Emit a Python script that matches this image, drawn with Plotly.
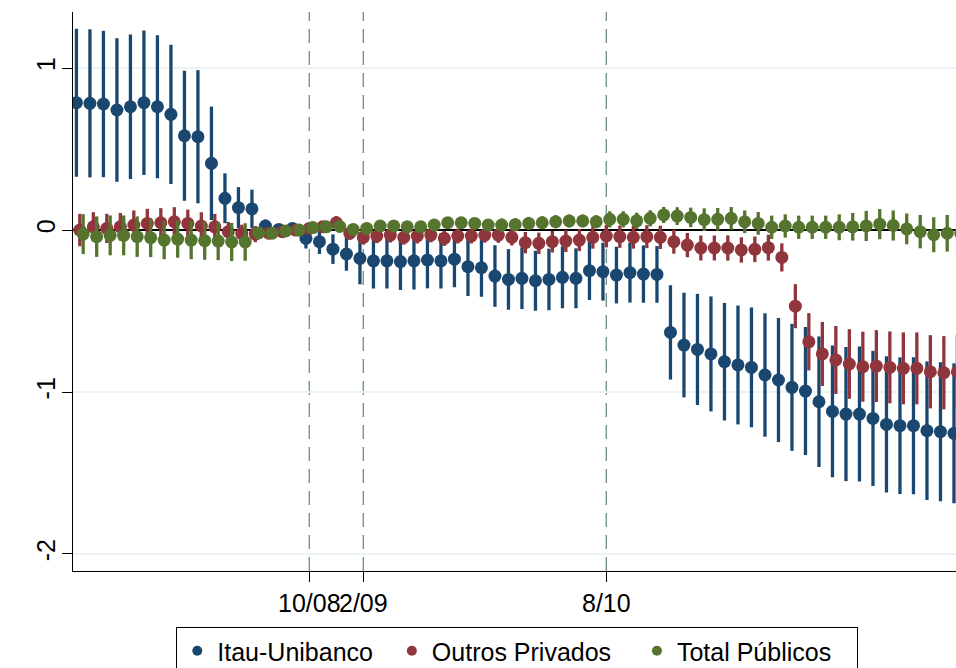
import plotly.graph_objects as go

# Monthly periods (0 = 5/2007) and the labelled months on the x axis
periods = list(range(66))
tick_periods = [17, 21, 39]
tick_labels = ["10/08", "2/09", "8/10"]

# Point estimates
itau = [0.786, 0.782, 0.778, 0.741, 0.761, 0.786, 0.761, 0.714, 0.582, 0.576,
        0.412, 0.196, 0.138, 0.130, 0.025, 0.004, 0.010, -0.052, -0.072, -0.118,
        -0.148, -0.175, -0.190, -0.190, -0.195, -0.190, -0.185, -0.190, -0.180, -0.226,
        -0.233, -0.284, -0.305, -0.298, -0.313, -0.305, -0.292, -0.298, -0.251, -0.257,
        -0.278, -0.263, -0.272, -0.274, -0.632, -0.710, -0.737, -0.765, -0.813, -0.833,
        -0.848, -0.895, -0.926, -0.971, -0.994, -1.060, -1.120, -1.136, -1.136, -1.163,
        -1.200, -1.208, -1.208, -1.239, -1.245, -1.255]
outros = [0.000, 0.020, 0.010, 0.020, 0.031, 0.041, 0.045, 0.051, 0.041, 0.025,
          0.020, -0.010, -0.022, -0.025, -0.020, -0.010, 0.000, 0.010, 0.020, 0.045,
          -0.020, -0.045, -0.037, -0.031, -0.045, -0.037, -0.031, -0.051, -0.037, -0.037,
          -0.031, -0.031, -0.045, -0.078, -0.082, -0.072, -0.068, -0.062, -0.045, -0.037,
          -0.041, -0.045, -0.041, -0.045, -0.072, -0.093, -0.111, -0.111, -0.111, -0.123,
          -0.119, -0.109, -0.169, -0.470, -0.690, -0.765, -0.802, -0.827, -0.844, -0.840,
          -0.848, -0.854, -0.854, -0.875, -0.881, -0.875]
publicos = [-0.025, -0.041, -0.033, -0.033, -0.041, -0.047, -0.062, -0.056, -0.062, -0.066,
            -0.068, -0.074, -0.074, -0.018, -0.020, -0.006, 0.000, 0.015, 0.020, 0.022,
            0.004, 0.010, 0.025, 0.025, 0.020, 0.020, 0.031, 0.045, 0.045, 0.041,
            0.031, 0.031, 0.033, 0.041, 0.045, 0.051, 0.056, 0.056, 0.051, 0.066,
            0.066, 0.057, 0.072, 0.093, 0.086, 0.078, 0.064, 0.066, 0.072, 0.051,
            0.041, 0.017, 0.025, 0.017, 0.017, 0.017, 0.017, 0.020, 0.025, 0.036,
            0.028, 0.007, -0.010, -0.029, -0.020, -0.020]

# Half-widths of the confidence intervals
itau_ci = [0.457, 0.457, 0.452, 0.443, 0.446, 0.446, 0.442, 0.430, 0.401, 0.411,
           0.350, 0.154, 0.127, 0.119, 0.040, 0.020, 0.000, 0.062, 0.076, 0.091,
           0.103, 0.160, 0.171, 0.171, 0.175, 0.177, 0.175, 0.171, 0.173, 0.181,
           0.179, 0.190, 0.187, 0.190, 0.185, 0.190, 0.191, 0.185, 0.181, 0.179,
           0.175, 0.185, 0.177, 0.175, 0.291, 0.323, 0.343, 0.355, 0.363, 0.367,
           0.370, 0.381, 0.383, 0.392, 0.395, 0.403, 0.407, 0.414, 0.417, 0.417,
           0.420, 0.422, 0.423, 0.428, 0.429, 0.432]
outros_ci = [0.100, 0.090, 0.090, 0.085, 0.090, 0.090, 0.090, 0.090, 0.085, 0.085,
             0.080, 0.060, 0.055, 0.050, 0.030, 0.020, 0.000, 0.020, 0.025, 0.041,
             0.040, 0.045, 0.044, 0.046, 0.045, 0.046, 0.045, 0.047, 0.046, 0.046,
             0.047, 0.048, 0.050, 0.066, 0.066, 0.067, 0.068, 0.068, 0.070, 0.070,
             0.069, 0.070, 0.071, 0.072, 0.074, 0.075, 0.077, 0.077, 0.078, 0.078,
             0.079, 0.080, 0.087, 0.136, 0.177, 0.198, 0.210, 0.215, 0.216, 0.222,
             0.222, 0.222, 0.222, 0.226, 0.226, 0.228]
publicos_ci = [0.123, 0.125, 0.123, 0.123, 0.125, 0.120, 0.118, 0.115, 0.118, 0.118,
               0.118, 0.118, 0.116, 0.030, 0.020, 0.015, 0.000, 0.015, 0.020, 0.025,
               0.025, 0.030, 0.030, 0.030, 0.030, 0.030, 0.030, 0.030, 0.030, 0.030,
               0.030, 0.040, 0.040, 0.040, 0.040, 0.040, 0.040, 0.040, 0.040, 0.050,
               0.050, 0.050, 0.050, 0.050, 0.055, 0.060, 0.070, 0.070, 0.070, 0.070,
               0.070, 0.072, 0.072, 0.072, 0.072, 0.072, 0.080, 0.085, 0.093, 0.093,
               0.093, 0.095, 0.103, 0.108, 0.113, 0.113]

series = [
    ("Itau-Unibanco", itau, itau_ci, "#1a476f", -0.25, 2),
    ("Outros Privados", outros, outros_ci, "#90353b", 0.0, 3),
    ("Total Públicos", publicos, publicos_ci, "#55752f", 0.25, 3),
]

FONT = "Arial, Liberation Sans, sans-serif"

fig = go.Figure()

for name, vals, ci, color, shift, _ in series:
    fig.add_trace(go.Scatter(
        x=[p + shift for p in periods], y=vals,
        mode="markers", showlegend=False, name=name,
        marker=dict(size=13, color=color, line=dict(width=0)),
        error_y=dict(type="data", array=ci, symmetric=True, width=0,
                     thickness=3.3, color=color),
    ))

# Legend keys with smaller symbols; trailing no-break spaces widen each entry
for name, vals, ci, color, shift, pad in series:
    fig.add_trace(go.Scatter(
        x=[None], y=[None], mode="markers", name=name + "\u00a0" * pad,
        marker=dict(size=10, color=color),
    ))

# Vertical reference lines at the labelled months
for tp in tick_periods:
    fig.add_shape(type="line", xref="x", yref="paper", x0=tp, x1=tp, y0=0, y1=1,
                  line=dict(color="#76948a", width=1.4, dash="14px,8px"), layer="below")

fig.update_layout(
    width=956, height=668,
    margin=dict(l=73, r=0, t=12, b=97, autoexpand=False),
    paper_bgcolor="white", plot_bgcolor="white",
    font=dict(family=FONT, size=25, color="black"),
    xaxis=dict(
        range=[-0.504, 64.9], automargin=False,
        tickmode="array", tickvals=tick_periods, ticktext=tick_labels,
        tickangle=0,
        showgrid=False, zeroline=False,
        showline=True, linecolor="black", linewidth=1.3,
        ticks="outside", ticklen=10, tickwidth=1.3, tickcolor="black",
        tickfont=dict(family=FONT, size=25, color="black"),
    ),
    yaxis=dict(
        range=[-2.105, 1.346], automargin=False,
        tickmode="array", tickvals=[-2, -1, 0, 1], ticktext=["-2", "-1", "0", "1"],
        tickangle=-90, ticklabelstandoff=-3,
        showgrid=True, gridcolor="#eaf2f3", gridwidth=2,
        zeroline=True, zerolinecolor="black", zerolinewidth=1.6,
        showline=True, linecolor="black", linewidth=1.3,
        ticks="outside", ticklen=10, tickwidth=1.3, tickcolor="black",
        tickfont=dict(family=FONT, size=25, color="black"),
    ),
    legend=dict(
        orientation="h", x=0.117, xanchor="left", y=-0.1002, yanchor="top",
        bordercolor="black", borderwidth=1, bgcolor="white",
        font=dict(family=FONT, size=25, color="black"),
    ),
)

fig.write_html("out.html")
